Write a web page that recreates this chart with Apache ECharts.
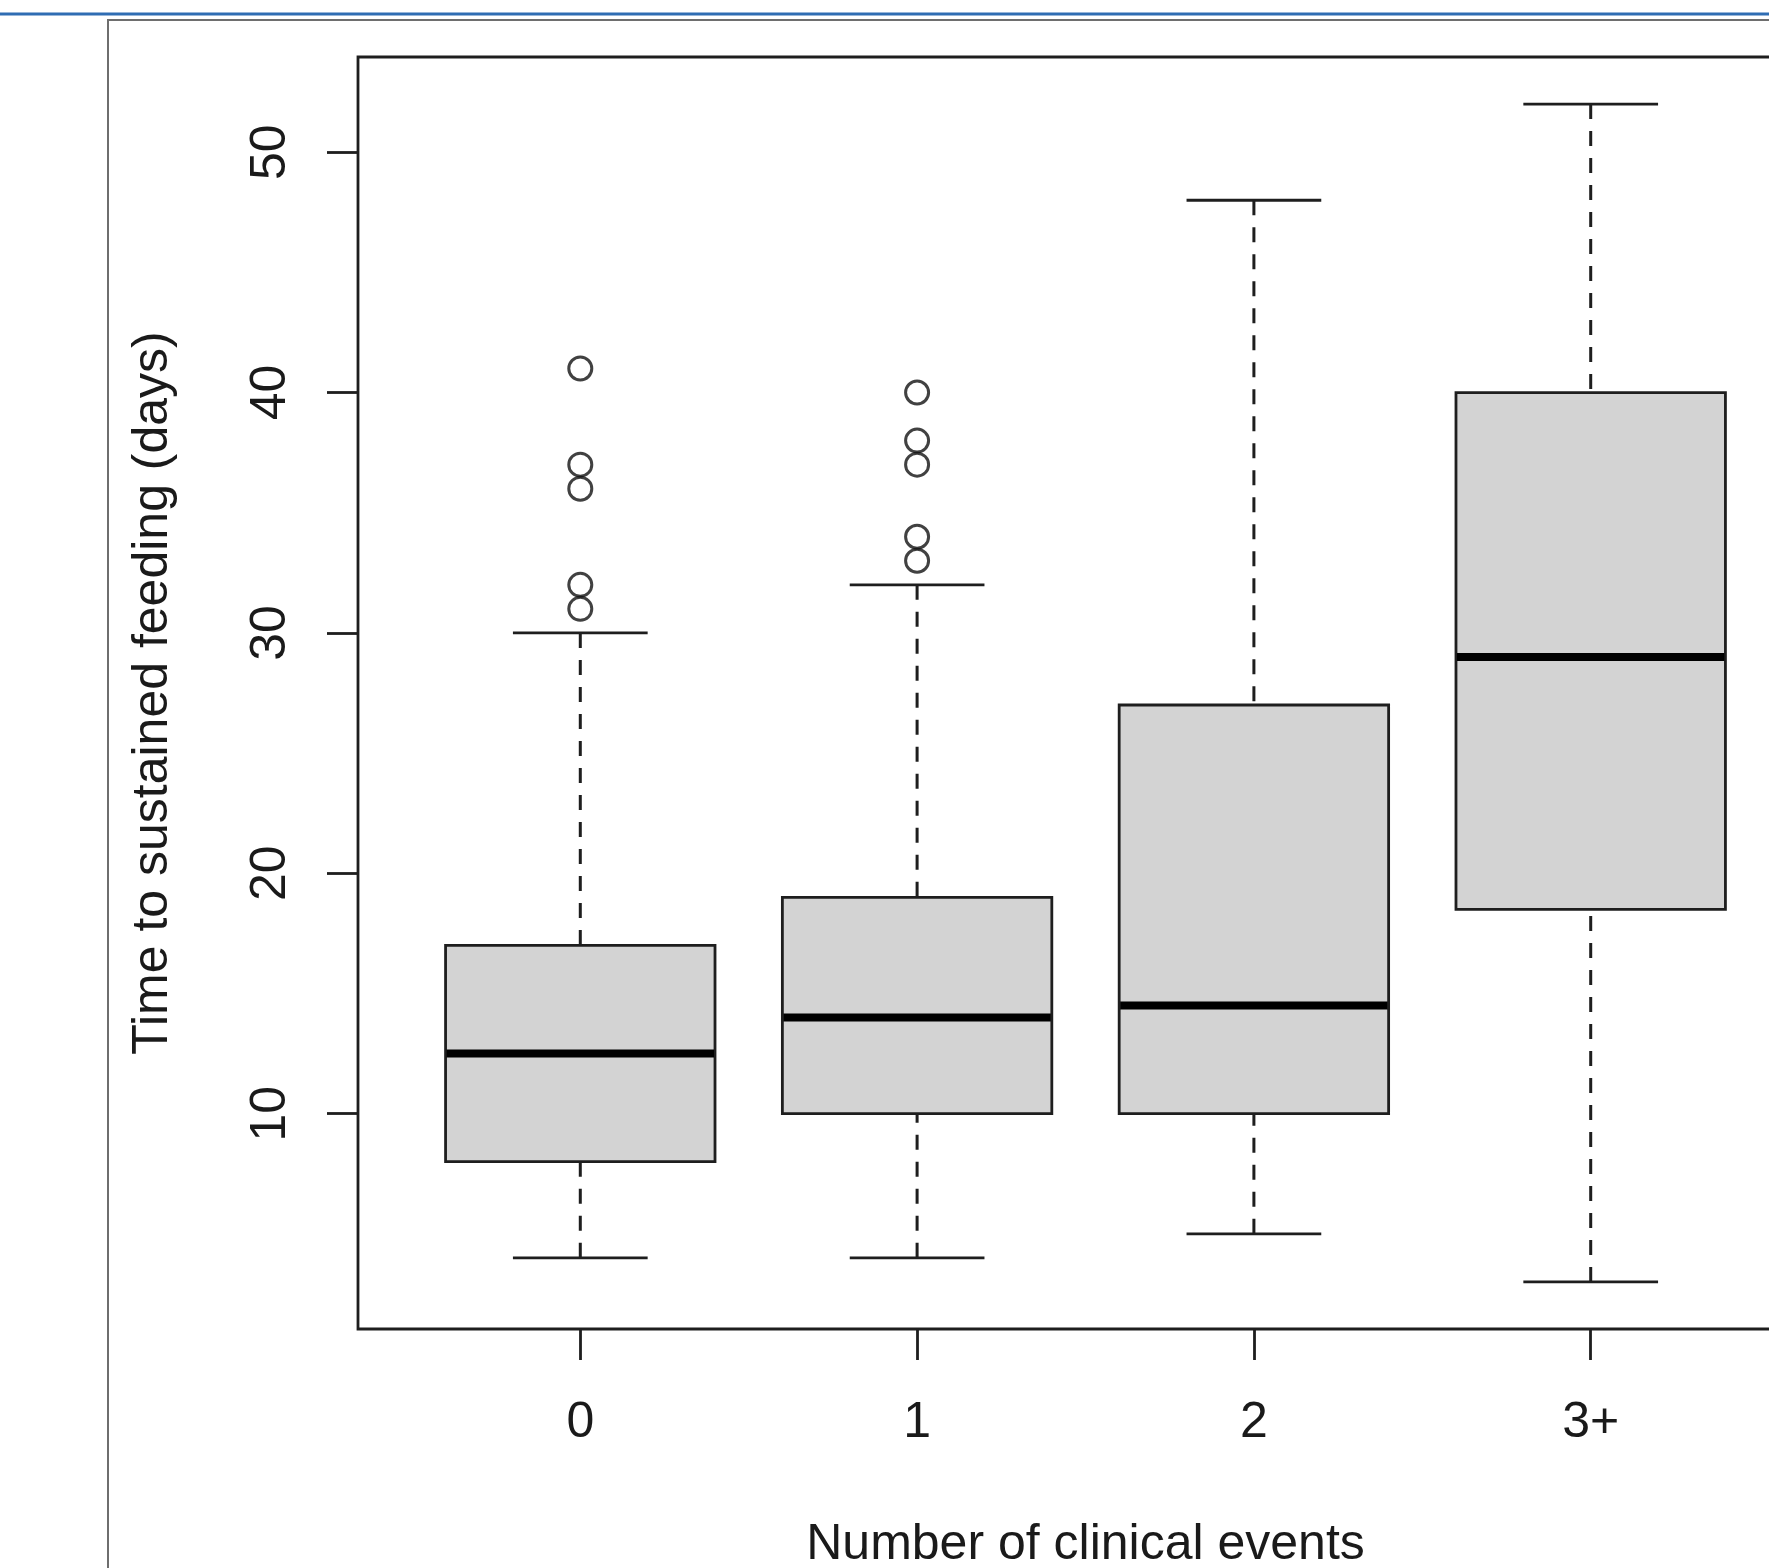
<!DOCTYPE html>
<html>
<head>
<meta charset="utf-8">
<script src="https://cdn.jsdelivr.net/npm/echarts@6/dist/echarts.min.js"></script>
<style>
html,body{margin:0;padding:0;background:#fff;}
#chart{width:1769px;height:1568px;}
</style>
</head>
<body>
<div id="chart"></div>
<script>
// ---- data ----
const categories = ['0', '1', '2', '3+'];
const whiskerLow = [4, 4, 5, 3];
const quartile1 = [8, 10, 10, 18.5];
const medians = [12.5, 14, 14.5, 29];
const quartile3 = [17, 19, 27, 40];
const whiskerHigh = [30, 32, 48, 52];
const outliers0 = [41, 37, 36, 32, 31];
const outliers1 = [40, 38, 37, 34, 33];
const outliers2 = [];
const outliers3 = [];
const yTicks = [10, 20, 30, 40, 50];
const xTitle = 'Number of clinical events';
const yTitle = 'Time to sustained feeding (days)';

// ---- build library data ----
const positions = categories.map((c, i) => i + 1);
const boxData = categories.map((c, i) => [positions[i], whiskerLow[i], quartile1[i], medians[i], quartile3[i], whiskerHigh[i]]);
const outlierGroups = [outliers0, outliers1, outliers2, outliers3];
const outlierData = [];
outlierGroups.forEach((g, i) => g.forEach(v => outlierData.push([positions[i], v])));

const allVals = whiskerLow.concat(whiskerHigh, outliers0, outliers1);
const dMin = Math.min.apply(null, allVals), dMax = Math.max.apply(null, allVals);
const pad = (dMax - dMin) * 0.04;
const xPad = (categories.length) * 0.04;

const FONT = 'Liberation Sans, Arial, Helvetica, sans-serif';
const LINE = '#1e1e1e';

const chart = echarts.init(document.getElementById('chart'), null, {renderer: 'canvas'});

function renderBox(params, api) {
  const x = api.value(0);
  const low = api.coord([x, api.value(1)]);
  const q1 = api.coord([x, api.value(2)]);
  const med = api.coord([x, api.value(3)]);
  const q3 = api.coord([x, api.value(4)]);
  const high = api.coord([x, api.value(5)]);
  const boxW = api.size([0.8, 0])[0];
  const capW = api.size([0.4, 0])[0];
  const cx = q1[0];
  const dash = {stroke: LINE, lineWidth: 3, lineDash: [15, 12]};
  const solid = {stroke: LINE, lineWidth: 2.8};
  return {
    type: 'group',
    children: [
      {type: 'line', shape: {x1: cx, y1: low[1], x2: cx, y2: q1[1]}, style: dash},
      {type: 'line', shape: {x1: cx, y1: high[1], x2: cx, y2: q3[1]}, style: dash},
      {type: 'line', shape: {x1: cx - capW / 2, y1: low[1], x2: cx + capW / 2, y2: low[1]}, style: solid},
      {type: 'line', shape: {x1: cx - capW / 2, y1: high[1], x2: cx + capW / 2, y2: high[1]}, style: solid},
      {type: 'rect', shape: {x: cx - boxW / 2, y: q3[1], width: boxW, height: q1[1] - q3[1]},
        style: {fill: '#d3d3d3', stroke: LINE, lineWidth: 2.8}},
      {type: 'line', shape: {x1: cx - boxW / 2 + 1, y1: med[1], x2: cx + boxW / 2 - 1, y2: med[1]},
        style: {stroke: '#000', lineWidth: 8}}
    ]
  };
}

const option = {
  backgroundColor: '#fff',
  animation: false,
  graphic: [
    {type: 'line', shape: {x1: 0, y1: 14, x2: 1769, y2: 14}, style: {stroke: '#2f6db3', lineWidth: 3}},
    {type: 'polyline', shape: {points: [[108, 1568], [108, 20], [1769, 20]]}, style: {stroke: '#6e6e6e', lineWidth: 2, fill: null}}
  ],
  grid: {left: 358, top: 57, width: 1455, height: 1272, show: true, borderColor: LINE, borderWidth: 2.8,
    backgroundColor: 'transparent', outerBoundsMode: 'none', containLabel: false},
  xAxis: {
    type: 'value',
    min: 1 - 0.5 - xPad, max: categories.length + 0.5 + xPad,
    name: xTitle, nameLocation: 'middle', nameGap: 191,
    nameTextStyle: {fontSize: 50, color: '#1a1a1a', fontFamily: FONT},
    axisLine: {show: false},
    splitLine: {show: false},
    axisTick: {show: true, customValues: positions, length: 31, lineStyle: {color: LINE, width: 2.8}},
    axisLabel: {show: true, customValues: positions, margin: 69, fontSize: 50, color: '#1a1a1a', fontFamily: FONT,
      formatter: v => categories[Math.round(v) - 1]}
  },
  yAxis: {
    type: 'value',
    min: dMin - pad, max: dMax + pad,
    name: yTitle, nameLocation: 'middle', nameGap: 180, nameRotate: 90,
    nameTextStyle: {fontSize: 50, color: '#1a1a1a', fontFamily: FONT},
    axisLine: {show: false},
    splitLine: {show: false},
    axisTick: {show: true, customValues: yTicks, length: 31, lineStyle: {color: LINE, width: 2.8}},
    axisLabel: {show: true, customValues: yTicks, rotate: 90, margin: 62, fontSize: 50, color: '#1a1a1a', fontFamily: FONT}
  },
  series: [
    {type: 'custom', renderItem: renderBox, data: boxData, clip: false, encode: {x: 0, y: [1, 2, 3, 4, 5]}, z: 2},
    {type: 'scatter', data: outlierData, symbol: 'circle', symbolSize: 23,
      itemStyle: {color: 'rgba(0,0,0,0)', borderColor: '#111', borderWidth: 3}, z: 3}
  ]
};
chart.setOption(option);
</script>
</body>
</html>
